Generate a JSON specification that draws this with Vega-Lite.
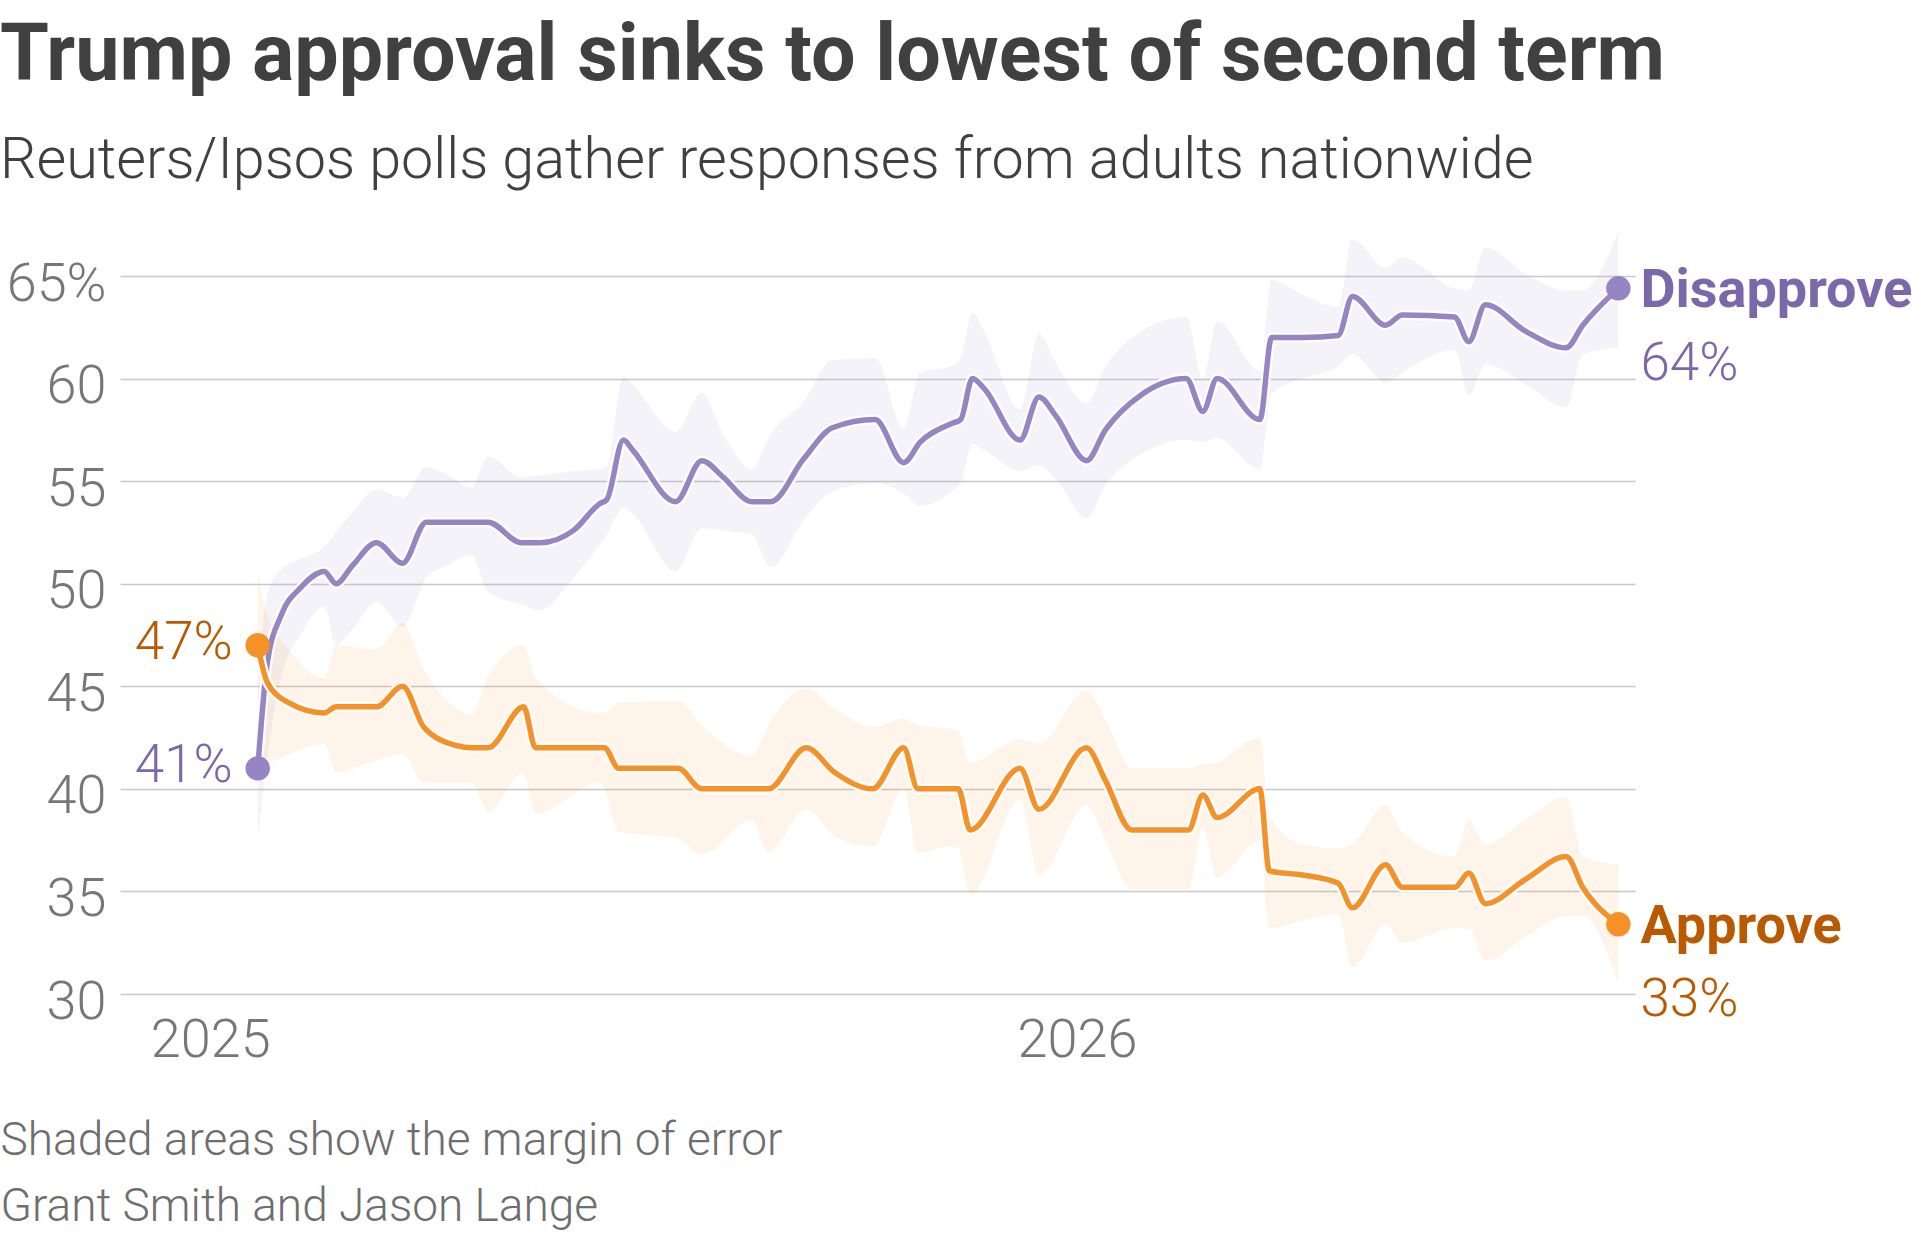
{
  "$schema": "https://vega.github.io/schema/vega-lite/v6.json",
  "width": 1515,
  "height": 718,
  "autosize": {"type": "none"},
  "padding": {"left": 120, "top": 276, "right": 285, "bottom": 245},
  "background": "white",
  "title": {
    "text": "Trump approval sinks to lowest of second term",
    "subtitle": "Reuters/Ipsos polls gather responses from adults nationwide",
    "anchor": "start",
    "frame": "group",
    "dx": -120,
    "offset": 40,
    "font": "Roboto",
    "fontSize": 79,
    "fontWeight": 700,
    "color": "#404040",
    "subtitleFont": "Roboto",
    "subtitleFontSize": 57.5,
    "subtitleFontWeight": 300,
    "subtitleColor": "#404040",
    "subtitlePadding": 36
  },
  "datasets": {
    "polls": [
      {"date": "2025-01-21", "series": "Disapprove", "value": 41.0, "lo": 37.5, "hi": 44.5},
      {"date": "2025-01-25", "series": "Disapprove", "value": 46.1, "lo": 41.5, "hi": 49.5},
      {"date": "2025-01-31", "series": "Disapprove", "value": 48.5, "lo": 45.5, "hi": 50.7},
      {"date": "2025-02-08", "series": "Disapprove", "value": 49.8, "lo": 47.5, "hi": 51.2},
      {"date": "2025-02-18", "series": "Disapprove", "value": 50.6, "lo": 48.9, "hi": 51.8},
      {"date": "2025-02-23", "series": "Disapprove", "value": 50.0, "lo": 47.0, "hi": 52.5},
      {"date": "2025-03-02", "series": "Disapprove", "value": 50.9, "lo": 47.8, "hi": 53.5},
      {"date": "2025-03-12", "series": "Disapprove", "value": 52.0, "lo": 49.1, "hi": 54.6},
      {"date": "2025-03-23", "series": "Disapprove", "value": 51.0, "lo": 47.9, "hi": 54.2},
      {"date": "2025-04-02", "series": "Disapprove", "value": 53.0, "lo": 50.3, "hi": 55.7},
      {"date": "2025-04-11", "series": "Disapprove", "value": 53.0, "lo": 50.9, "hi": 55.3},
      {"date": "2025-04-21", "series": "Disapprove", "value": 53.0, "lo": 51.4, "hi": 54.7},
      {"date": "2025-04-28", "series": "Disapprove", "value": 53.0, "lo": 49.6, "hi": 56.2},
      {"date": "2025-05-12", "series": "Disapprove", "value": 52.0, "lo": 49.0, "hi": 55.2},
      {"date": "2025-05-20", "series": "Disapprove", "value": 52.0, "lo": 48.7, "hi": 55.3},
      {"date": "2025-06-03", "series": "Disapprove", "value": 52.6, "lo": 50.3, "hi": 55.5},
      {"date": "2025-06-14", "series": "Disapprove", "value": 53.9, "lo": 51.9, "hi": 55.6},
      {"date": "2025-06-17", "series": "Disapprove", "value": 54.1, "lo": 52.4, "hi": 55.7},
      {"date": "2025-06-24", "series": "Disapprove", "value": 57.0, "lo": 53.7, "hi": 60.1},
      {"date": "2025-06-28", "series": "Disapprove", "value": 56.5, "lo": 53.4, "hi": 59.7},
      {"date": "2025-07-16", "series": "Disapprove", "value": 54.0, "lo": 50.6, "hi": 57.4},
      {"date": "2025-07-27", "series": "Disapprove", "value": 56.0, "lo": 52.7, "hi": 59.3},
      {"date": "2025-08-05", "series": "Disapprove", "value": 55.2, "lo": 52.6, "hi": 57.3},
      {"date": "2025-08-17", "series": "Disapprove", "value": 54.0, "lo": 52.4, "hi": 55.6},
      {"date": "2025-08-25", "series": "Disapprove", "value": 54.0, "lo": 50.8, "hi": 57.3},
      {"date": "2025-09-08", "series": "Disapprove", "value": 56.1, "lo": 53.1, "hi": 58.9},
      {"date": "2025-09-20", "series": "Disapprove", "value": 57.6, "lo": 54.5, "hi": 60.9},
      {"date": "2025-10-08", "series": "Disapprove", "value": 58.0, "lo": 54.9, "hi": 61.0},
      {"date": "2025-10-20", "series": "Disapprove", "value": 55.9, "lo": 54.4, "hi": 57.6},
      {"date": "2025-10-27", "series": "Disapprove", "value": 56.9, "lo": 53.8, "hi": 60.3},
      {"date": "2025-11-09", "series": "Disapprove", "value": 57.8, "lo": 54.5, "hi": 60.6},
      {"date": "2025-11-13", "series": "Disapprove", "value": 58.0, "lo": 54.9, "hi": 61.0},
      {"date": "2025-11-18", "series": "Disapprove", "value": 60.0, "lo": 56.8, "hi": 63.2},
      {"date": "2025-11-23", "series": "Disapprove", "value": 59.5, "lo": 56.5, "hi": 62.3},
      {"date": "2025-12-08", "series": "Disapprove", "value": 57.0, "lo": 55.5, "hi": 58.5},
      {"date": "2025-12-16", "series": "Disapprove", "value": 59.1, "lo": 55.8, "hi": 62.2},
      {"date": "2025-12-23", "series": "Disapprove", "value": 58.2, "lo": 55.1, "hi": 60.8},
      {"date": "2026-01-05", "series": "Disapprove", "value": 56.0, "lo": 53.2, "hi": 58.8},
      {"date": "2026-01-13", "series": "Disapprove", "value": 57.5, "lo": 54.8, "hi": 60.6},
      {"date": "2026-01-28", "series": "Disapprove", "value": 59.2, "lo": 56.3, "hi": 62.3},
      {"date": "2026-02-16", "series": "Disapprove", "value": 60.0, "lo": 57.0, "hi": 63.0},
      {"date": "2026-02-23", "series": "Disapprove", "value": 58.4, "lo": 56.9, "hi": 60.0},
      {"date": "2026-03-01", "series": "Disapprove", "value": 60.0, "lo": 57.1, "hi": 62.8},
      {"date": "2026-03-19", "series": "Disapprove", "value": 58.0, "lo": 55.6, "hi": 60.4},
      {"date": "2026-03-24", "series": "Disapprove", "value": 62.0, "lo": 59.3, "hi": 64.8},
      {"date": "2026-04-06", "series": "Disapprove", "value": 62.0, "lo": 60.0, "hi": 64.1},
      {"date": "2026-04-21", "series": "Disapprove", "value": 62.1, "lo": 60.6, "hi": 63.5},
      {"date": "2026-04-27", "series": "Disapprove", "value": 64.0, "lo": 61.2, "hi": 66.8},
      {"date": "2026-05-11", "series": "Disapprove", "value": 62.6, "lo": 59.8, "hi": 65.4},
      {"date": "2026-05-18", "series": "Disapprove", "value": 63.1, "lo": 60.3, "hi": 65.9},
      {"date": "2026-06-09", "series": "Disapprove", "value": 63.0, "lo": 61.4, "hi": 64.4},
      {"date": "2026-06-15", "series": "Disapprove", "value": 61.8, "lo": 59.2, "hi": 64.3},
      {"date": "2026-06-22", "series": "Disapprove", "value": 63.6, "lo": 60.7, "hi": 66.4},
      {"date": "2026-07-09", "series": "Disapprove", "value": 62.3, "lo": 59.7, "hi": 65.1},
      {"date": "2026-07-26", "series": "Disapprove", "value": 61.5, "lo": 58.6, "hi": 64.3},
      {"date": "2026-08-02", "series": "Disapprove", "value": 62.6, "lo": 61.2, "hi": 64.3},
      {"date": "2026-08-17", "series": "Disapprove", "value": 64.4, "lo": 61.5, "hi": 67.2},
      {"date": "2025-01-21", "series": "Approve", "value": 47.0, "lo": 41.5, "hi": 50.4},
      {"date": "2025-01-25", "series": "Approve", "value": 45.2, "lo": 41.3, "hi": 48.5},
      {"date": "2025-02-03", "series": "Approve", "value": 44.2, "lo": 41.7, "hi": 46.8},
      {"date": "2025-02-18", "series": "Approve", "value": 43.7, "lo": 42.2, "hi": 45.4},
      {"date": "2025-02-23", "series": "Approve", "value": 44.0, "lo": 40.8, "hi": 47.0},
      {"date": "2025-03-12", "series": "Approve", "value": 44.0, "lo": 41.4, "hi": 46.8},
      {"date": "2025-03-23", "series": "Approve", "value": 45.0, "lo": 41.7, "hi": 48.1},
      {"date": "2025-04-01", "series": "Approve", "value": 43.0, "lo": 40.3, "hi": 45.8},
      {"date": "2025-04-15", "series": "Approve", "value": 42.1, "lo": 40.3, "hi": 43.9},
      {"date": "2025-04-21", "series": "Approve", "value": 42.0, "lo": 40.3, "hi": 43.6},
      {"date": "2025-04-28", "series": "Approve", "value": 42.0, "lo": 38.9, "hi": 45.5},
      {"date": "2025-05-13", "series": "Approve", "value": 44.0, "lo": 40.8, "hi": 47.0},
      {"date": "2025-05-18", "series": "Approve", "value": 42.0, "lo": 38.8, "hi": 45.4},
      {"date": "2025-06-14", "series": "Approve", "value": 42.0, "lo": 40.3, "hi": 43.7},
      {"date": "2025-06-16", "series": "Approve", "value": 42.0, "lo": 40.0, "hi": 43.7},
      {"date": "2025-06-22", "series": "Approve", "value": 41.0, "lo": 37.9, "hi": 44.2},
      {"date": "2025-07-17", "series": "Approve", "value": 41.0, "lo": 37.6, "hi": 44.3},
      {"date": "2025-07-27", "series": "Approve", "value": 40.0, "lo": 36.8, "hi": 43.1},
      {"date": "2025-08-17", "series": "Approve", "value": 40.0, "lo": 38.5, "hi": 41.6},
      {"date": "2025-08-24", "series": "Approve", "value": 40.0, "lo": 36.9, "hi": 43.1},
      {"date": "2025-09-09", "series": "Approve", "value": 42.0, "lo": 39.0, "hi": 44.9},
      {"date": "2025-09-21", "series": "Approve", "value": 40.8, "lo": 37.7, "hi": 43.9},
      {"date": "2025-10-07", "series": "Approve", "value": 40.0, "lo": 37.2, "hi": 43.0},
      {"date": "2025-10-20", "series": "Approve", "value": 42.0, "lo": 40.0, "hi": 43.4},
      {"date": "2025-10-26", "series": "Approve", "value": 40.0, "lo": 36.9, "hi": 43.1},
      {"date": "2025-11-09", "series": "Approve", "value": 40.0, "lo": 37.2, "hi": 42.9},
      {"date": "2025-11-12", "series": "Approve", "value": 40.0, "lo": 37.1, "hi": 42.8},
      {"date": "2025-11-17", "series": "Approve", "value": 38.0, "lo": 34.8, "hi": 41.3},
      {"date": "2025-12-08", "series": "Approve", "value": 41.0, "lo": 39.5, "hi": 42.4},
      {"date": "2025-12-16", "series": "Approve", "value": 39.0, "lo": 35.8, "hi": 42.2},
      {"date": "2026-01-05", "series": "Approve", "value": 42.0, "lo": 39.2, "hi": 44.8},
      {"date": "2026-01-13", "series": "Approve", "value": 40.4, "lo": 37.5, "hi": 43.4},
      {"date": "2026-01-24", "series": "Approve", "value": 38.0, "lo": 35.1, "hi": 41.0},
      {"date": "2026-02-17", "series": "Approve", "value": 38.0, "lo": 35.1, "hi": 41.0},
      {"date": "2026-02-23", "series": "Approve", "value": 39.7, "lo": 38.1, "hi": 41.2},
      {"date": "2026-03-01", "series": "Approve", "value": 38.6, "lo": 35.7, "hi": 41.3},
      {"date": "2026-03-19", "series": "Approve", "value": 40.0, "lo": 37.5, "hi": 42.5},
      {"date": "2026-03-23", "series": "Approve", "value": 36.0, "lo": 33.2, "hi": 38.7},
      {"date": "2026-04-06", "series": "Approve", "value": 35.8, "lo": 33.6, "hi": 37.3},
      {"date": "2026-04-21", "series": "Approve", "value": 35.4, "lo": 33.9, "hi": 37.1},
      {"date": "2026-04-27", "series": "Approve", "value": 34.2, "lo": 31.3, "hi": 37.3},
      {"date": "2026-05-11", "series": "Approve", "value": 36.3, "lo": 33.4, "hi": 39.2},
      {"date": "2026-05-18", "series": "Approve", "value": 35.2, "lo": 32.5, "hi": 37.9},
      {"date": "2026-06-09", "series": "Approve", "value": 35.2, "lo": 33.2, "hi": 36.7},
      {"date": "2026-06-15", "series": "Approve", "value": 35.9, "lo": 33.2, "hi": 38.5},
      {"date": "2026-06-22", "series": "Approve", "value": 34.4, "lo": 31.6, "hi": 37.3},
      {"date": "2026-07-09", "series": "Approve", "value": 35.6, "lo": 32.8, "hi": 38.5},
      {"date": "2026-07-26", "series": "Approve", "value": 36.7, "lo": 33.8, "hi": 39.6},
      {"date": "2026-08-02", "series": "Approve", "value": 35.2, "lo": 33.8, "hi": 36.7},
      {"date": "2026-08-17", "series": "Approve", "value": 33.4, "lo": 30.5, "hi": 36.3}
    ],
    "ends": [
      {"date": "2025-01-21", "series": "Disapprove", "value": 41.0, "side": "start", "pct": "41%"},
      {"date": "2025-01-21", "series": "Approve", "value": 47.0, "side": "start", "pct": "47%"},
      {"date": "2026-08-17", "series": "Disapprove", "value": 64.4, "side": "end", "pct": "64%"},
      {"date": "2026-08-17", "series": "Approve", "value": 33.4, "side": "end", "pct": "33%"}
    ]
  },
  "data": {"name": "polls"},
  "encoding": {
    "x": {
      "field": "date",
      "type": "temporal",
      "scale": {
        "type": "utc",
        "domain": [
          {"year": 2024, "month": 11, "date": 24, "utc": true},
          {"year": 2026, "month": 8, "date": 24, "utc": true}
        ]
      },
      "axis": {
        "values": [
          {"year": 2025, "month": 1, "date": 1, "utc": true},
          {"year": 2026, "month": 1, "date": 1, "utc": true}
        ],
        "labelExpr": "utcFormat(datum.value, '%Y')",
        "grid": false,
        "domain": false,
        "ticks": false,
        "tickSize": 0,
        "labelFlush": false,
        "labelPadding": 19,
        "labelFont": "Roboto",
        "labelFontSize": 54,
        "labelFontWeight": 300,
        "labelColor": "#777777",
        "title": ["Shaded areas show the margin of error", "Grant Smith and Jason Lange"],
        "titleFont": "Roboto",
        "titleFontSize": 46,
        "titleFontWeight": 300,
        "titleColor": "#6e6e6e",
        "titleAlign": "left",
        "titleAnchor": "start",
        "titleBaseline": "alphabetic",
        "titleX": -120,
        "titleY": 160,
        "titleLineHeight": 66
      }
    },
    "y": {
      "field": "value",
      "type": "quantitative",
      "scale": {"domain": [30, 65], "nice": false, "zero": false},
      "axis": {
        "values": [30, 35, 40, 45, 50, 55, 60, 65],
        "labelExpr": "datum.value == 65 ? '65%' : datum.label",
        "title": null,
        "domain": false,
        "ticks": false,
        "tickSize": 0,
        "labelFlush": false,
        "labelPadding": 14,
        "labelOffset": 8,
        "labelFont": "Roboto",
        "labelFontSize": 54,
        "labelFontWeight": 300,
        "labelColor": "#777777",
        "gridColor": "#c8c8c8",
        "gridWidth": 1.5
      }
    }
  },
  "layer": [
    {
      "mark": {"type": "area", "interpolate": "monotone", "opacity": 0.1},
      "encoding": {
        "y": {"field": "lo", "type": "quantitative"},
        "y2": {"field": "hi"},
        "color": {
          "field": "series",
          "type": "nominal",
          "scale": {"domain": ["Disapprove", "Approve"], "range": ["#9685c2", "#f49128"]},
          "legend": null
        }
      }
    },
    {
      "transform": [{"filter": "datum.series == 'Disapprove'"}],
      "mark": {"type": "line", "interpolate": "monotone", "color": "white", "strokeWidth": 10, "strokeCap": "round", "strokeJoin": "round"},
      "encoding": {}
    },
    {
      "transform": [{"filter": "datum.series == 'Disapprove'"}],
      "mark": {"type": "line", "interpolate": "monotone", "color": "#9685c2", "strokeWidth": 5.5, "strokeCap": "round", "strokeJoin": "round"},
      "encoding": {}
    },
    {
      "transform": [{"filter": "datum.series == 'Approve'"}],
      "mark": {"type": "line", "interpolate": "monotone", "color": "white", "strokeWidth": 10, "strokeCap": "round", "strokeJoin": "round"},
      "encoding": {}
    },
    {
      "transform": [{"filter": "datum.series == 'Approve'"}],
      "mark": {"type": "line", "interpolate": "monotone", "color": "#f49128", "strokeWidth": 5.5, "strokeCap": "round", "strokeJoin": "round"},
      "encoding": {}
    },
    {
      "data": {"name": "ends"},
      "mark": {"type": "circle", "size": 600, "opacity": 1},
      "encoding": {
        "color": {"field": "series", "type": "nominal", "legend": null}
      }
    },
    {
      "data": {"name": "ends"},
      "transform": [{"filter": "datum.side == 'start'"}],
      "mark": {"type": "text", "align": "right", "baseline": "middle", "dx": -25, "dy": -2, "font": "Roboto", "fontSize": 53, "fontWeight": 300},
      "encoding": {
        "text": {"field": "pct"},
        "fill": {
          "field": "series",
          "type": "nominal",
          "scale": {"domain": ["Disapprove", "Approve"], "range": ["#7b68aa", "#b95a00"]},
          "legend": null
        }
      }
    },
    {
      "data": {"name": "ends"},
      "transform": [{"filter": "datum.side == 'end'"}],
      "mark": {"type": "text", "align": "left", "baseline": "alphabetic", "dx": 22, "dy": 19, "font": "Roboto", "fontSize": 54, "fontWeight": 700},
      "encoding": {
        "text": {"field": "series"},
        "fill": {"field": "series", "type": "nominal", "legend": null}
      }
    },
    {
      "data": {"name": "ends"},
      "transform": [{"filter": "datum.side == 'end'"}],
      "mark": {"type": "text", "align": "left", "baseline": "alphabetic", "dx": 22, "dy": 92, "font": "Roboto", "fontSize": 53, "fontWeight": 300},
      "encoding": {
        "text": {"field": "pct"},
        "fill": {"field": "series", "type": "nominal", "legend": null}
      }
    }
  ],
  "config": {
    "view": {"stroke": null},
    "font": "Roboto"
  }
}
